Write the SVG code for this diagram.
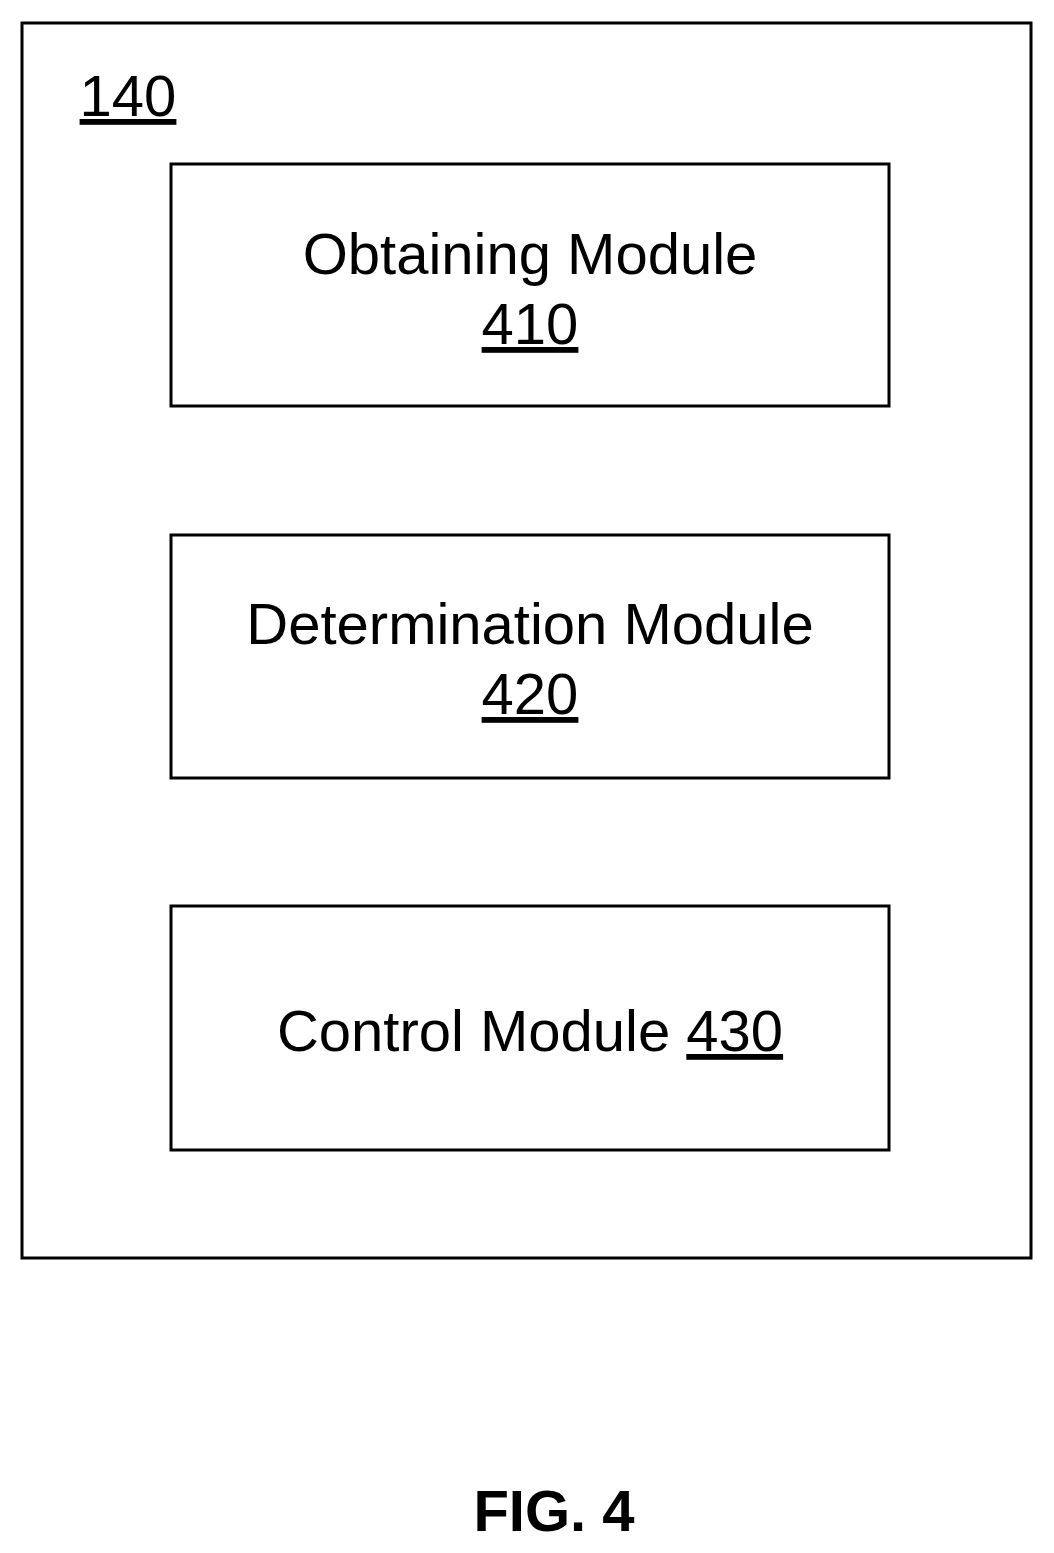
<svg xmlns="http://www.w3.org/2000/svg" width="1054" height="1553" viewBox="0 0 1054 1553">
<style>
.b{fill:none;stroke:#000;stroke-width:3}
.t{font-family:"Liberation Sans",Arial,sans-serif;font-size:58px;fill:#000;text-anchor:middle}
.u{text-decoration:underline}
</style>
<rect width="1054" height="1553" fill="#fff"/>
<g id="n140"><rect class="b" x="22" y="23" width="1009" height="1235"/>
<text class="t u" x="128" y="116">140</text></g>
<g id="n410"><rect class="b" x="171" y="164" width="718" height="242"/>
<text class="t" x="530" y="274">Obtaining Module</text><text class="t u" x="530" y="344">410</text></g>
<g id="n420"><rect class="b" x="171" y="535" width="718" height="243"/>
<text class="t" x="530" y="644">Determination Module</text><text class="t u" x="530" y="714">420</text></g>
<g id="n430"><rect class="b" x="171" y="906" width="718" height="244"/>
<text class="t" x="530" y="1051">Control Module <tspan class="u">430</tspan></text></g>
<g id="connectors"/>
<text class="t" x="554" y="1531" style="font-weight:bold">FIG. 4</text>
</svg>
